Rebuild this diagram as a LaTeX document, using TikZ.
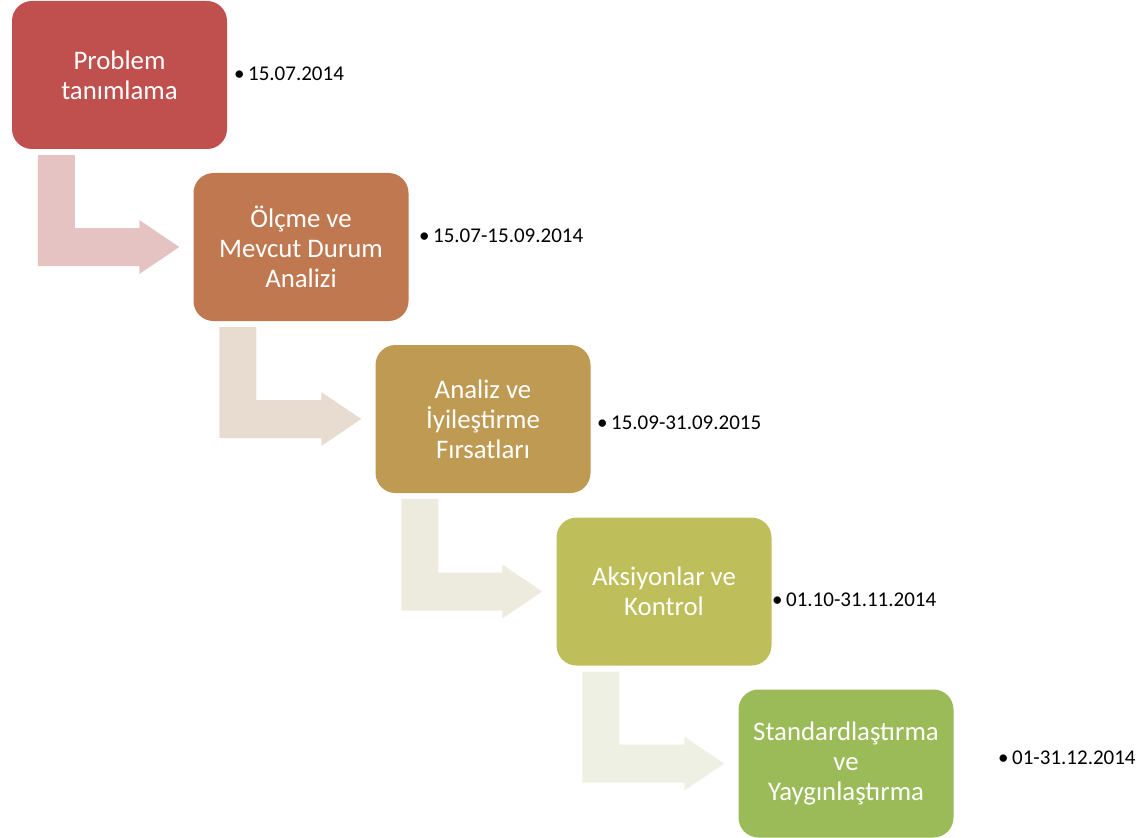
\documentclass[tikz,border=0pt]{standalone}
\usepackage{fontspec}
\setmainfont{Carlito}
\usetikzlibrary{calc, positioning}
\definecolor{phaseA}{HTML}{C0504D}
\definecolor{phaseB}{HTML}{BF7850}
\definecolor{phaseC}{HTML}{BF9A53}
\definecolor{phaseD}{HTML}{BEBE5B}
\definecolor{phaseE}{HTML}{9BBB59}
\definecolor{arrowA}{HTML}{E5C3C3}
\definecolor{arrowB}{HTML}{E8DCD1}
\definecolor{arrowC}{HTML}{EDEADE}
\definecolor{arrowD}{HTML}{EFF0E4}
\tikzset{
phase/.style={
  rectangle,
  rounded corners=20pt,
  minimum width=215pt,
  minimum height=148pt,
  inner sep=0pt,
  text=white,
  align=center,
  font=\fontsize{26.8}{30}\selectfont
},
date/.style={anchor=west, inner sep=0pt, font=\fontsize{21}{25}\selectfont},
}

\begin{document}
\begin{tikzpicture}[x=1pt,y=-1pt]
    \useasboundingbox (0,0) rectangle (1147,837);
    % phases
    \node[phase, fill=phaseA] (box1) at (119.5,75) {Problem\\tanımlama};
    \node[phase, fill=phaseB] (box2) at (301,247) {Ölçme ve\\Mevcut Durum\\Analizi};
    \node[phase, fill=phaseC] (box3) at (483,419) {Analiz ve\\İyileştirme\\Fırsatları};
    \node[phase, fill=phaseD] (box4) at (664,591.5) {Aksiyonlar ve\\Kontrol};
    \node[phase, fill=phaseE] (box5) at (846,763.5) {Standardlaştırma\\ve\\Yaygınlaştırma};
    % bent arrows
    \foreach \a/\b/\c in {box1/box2/arrowA, box2/box3/arrowB, box3/box4/arrowC, box4/box5/arrowD}
        \fill[\c] let \p1=(\a.south west), \p2=(\b.west) in
            (\x1+26pt,\y1-6pt) -- (\x1+63pt,\y1-6pt) -- (\x1+63pt,\y2+19pt)
            -- (\x2-54pt,\y2+19pt) -- (\x2-54pt,\y2+27pt) -- (\x2-14pt,\y2)
            -- (\x2-54pt,\y2-27pt) -- (\x2-54pt,\y2-19pt) -- (\x1+26pt,\y2-19pt) -- cycle;
    % dates
    \node[date] (date1) at (234,74) {\textbullet\,15.07.2014};
    \node[date] (date2) at (419,236) {\textbullet\,15.07-15.09.2014};
    \node[date] (date3) at (597,423) {\textbullet\,15.09-31.09.2015};
    \node[date] (date4) at (772,600) {\textbullet\,01.10-31.11.2014};
    \node[date] (date5) at (998,758) {\textbullet\,01-31.12.2014};
\end{tikzpicture}
\end{document}
